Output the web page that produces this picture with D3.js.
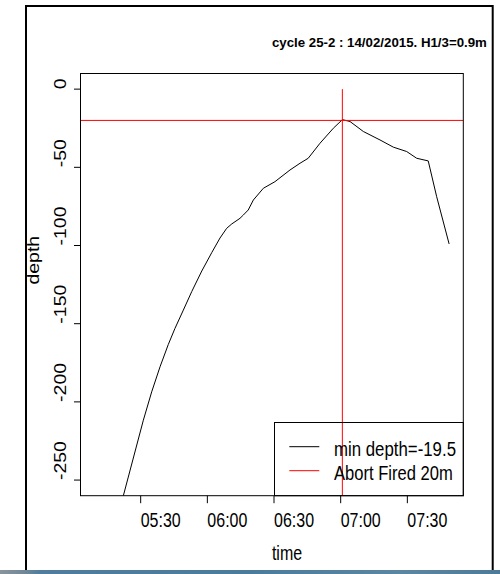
<!DOCTYPE html>
<html>
<head>
<meta charset="utf-8">
<script src="https://cdn.jsdelivr.net/npm/d3@7/dist/d3.min.js"></script>
<style>
  html, body { margin: 0; padding: 0; background: #fff; }
  svg { display: block; }
  text { font-family: "Liberation Sans", Arial, sans-serif; fill: #000; }
</style>
</head>
<body>
<svg id="chart" width="500" height="574"></svg>
<script>
// Dive profile of cycle 25-2 (time of day, depth in metres)
const times = ["05:09:18","05:22:12","05:31:12","05:34:57","05:38:42","05:42:24","05:45:24",
  "05:49:12","05:53:00","05:57:30","06:02:00","06:05:42","06:08:42","06:11:00","06:14:42",
  "06:16:12","06:18:24","06:20:42","06:25:12","06:30:24","06:37:12","06:41:42","06:45:24",
  "06:50:42","06:56:42","07:00:45","07:04:12","07:10:12","07:17:42","07:23:42","07:29:42",
  "07:34:12","07:39:24","07:43:12","07:48:48"];
const depths = [-333,-260,-211.7,-193.6,-177.6,-163.4,-153.1,
  -141.3,-129.4,-116.3,-104.5,-95.2,-89.0,-86.2,-82.6,
  -80.5,-77.3,-70.9,-63.4,-59.2,-51.7,-47.4,-44.2,
  -34.6,-25.0,-19.5,-20.7,-27.1,-32.5,-37.1,-39.9,
  -44.2,-45.9,-68.8,-99.0];

const yLimits = [-250, 0];
const yTicks = [0, -50, -100, -150, -200, -250];
const xTickLabels = ["05:30", "06:00", "06:30", "07:00", "07:30"];
const abortTime = "07:00:45";
const abortDepth = -20;
const minDepth = -19.5;

const titleText = "cycle 25-2 : 14/02/2015. H1/3=0.9m";
const legendLabels = ["min depth=-19.5", "Abort Fired 20m"];
const legendColors = ["#000000", "#ff0000"];

const parse = d3.utcParse("%H:%M:%S");
const parseHM = d3.utcParse("%H:%M");
const data = times.map((t, i) => ({ t: parse(t), d: depths[i] }));

const svg = d3.select("#chart");
const W = 500, H = 574;

// plot region
const L = 80.5, R = 463.3, T = 73.5, B = 495.7;
const SX = 0.82;           // horizontal squeeze of the lettering
const FS = 19.5;

// R-style 4% axis extension
function extend(a, b) { const p = (b - a) * 0.04; return [a - p, b + p]; }
const tExt = d3.extent(data, d => +d.t);
const xd = extend(tExt[0], tExt[1]);
const x = d3.scaleUtc().domain([new Date(xd[0]), new Date(xd[1])]).range([L, R]);
const yd = extend(yLimits[0], yLimits[1]);
const y = d3.scaleLinear().domain(yd).range([B, T]);

// outer frame
svg.append("rect").attr("x", 26).attr("y", 6).attr("width", 466.7).attr("height", 620)
  .attr("fill", "#fff").attr("stroke", "#000").attr("stroke-width", 2);

svg.append("defs").append("clipPath").attr("id", "plotclip")
  .append("rect").attr("x", L).attr("y", T).attr("width", R - L).attr("height", B - T);

const plot = svg.append("g").attr("clip-path", "url(#plotclip)");

// profile line
plot.append("path").datum(data)
  .attr("fill", "none").attr("stroke", "#000").attr("stroke-width", 1)
  .attr("d", d3.line().x(d => x(d.t)).y(d => y(d.d)));

// abort markers
plot.append("line")
  .attr("x1", L).attr("x2", R).attr("y1", y(abortDepth)).attr("y2", y(abortDepth))
  .attr("stroke", "#ff0000").attr("stroke-width", 1);
plot.append("line")
  .attr("x1", x(parse(abortTime))).attr("x2", x(parse(abortTime)))
  .attr("y1", y(0)).attr("y2", y(yd[0]))
  .attr("stroke", "#ff0000").attr("stroke-width", 1);

// box
svg.append("rect").attr("x", L).attr("y", T).attr("width", R - L).attr("height", B - T)
  .attr("fill", "none").attr("stroke", "#000").attr("stroke-width", 1);

// y axis
const ya = svg.append("g");
yTicks.forEach(v => {
  ya.append("line").attr("x1", L - 6.5).attr("x2", L).attr("y1", y(v)).attr("y2", y(v))
    .attr("stroke", "#000").attr("stroke-width", 1);
  ya.append("text")
    .attr("transform", `translate(65.5,${y(v)}) scale(${SX},1) rotate(-90)`)
    .attr("font-size", FS).attr("text-anchor", "start")
    .text(d3.format("d")(v).replace("−", "-"));
});

// x axis
const xa = svg.append("g");
xTickLabels.forEach(lbl => {
  const px = x(parseHM(lbl));
  xa.append("line").attr("x1", px).attr("x2", px).attr("y1", B).attr("y2", B + 7.5)
    .attr("stroke", "#000").attr("stroke-width", 1);
  xa.append("text")
    .attr("transform", `translate(${px},526.5) scale(${SX},1)`)
    .attr("font-size", FS).attr("text-anchor", "start")
    .text(d3.utcFormat("%H:%M")(parseHM(lbl)));
});

// axis titles
const cx = (L + R) / 2, cy = (T + B) / 2;
svg.append("text")
  .attr("transform", `translate(${cx},559.5) scale(${SX},1)`)
  .attr("font-size", FS).text("time");
svg.append("text")
  .attr("transform", `translate(38.5,${cy}) scale(${SX},1) rotate(-90)`)
  .attr("font-size", FS).text("depth");

// main title
svg.append("text")
  .attr("x", cx).attr("y", 46.5)
  .attr("font-size", 13).attr("font-weight", "bold")
  .attr("textLength", 215).attr("lengthAdjust", "spacingAndGlyphs")
  .text(titleText);

// legend (bottom right)
const lg = svg.append("g");
lg.append("rect").attr("x", 274.5).attr("y", 422.5).attr("width", R - 274.5).attr("height", B - 422.5)
  .attr("fill", "none").attr("stroke", "#000").attr("stroke-width", 1);
const legendWidths = [122, 118.7];
legendLabels.forEach((lbl, i) => {
  const ly = 446.7 + i * 24;
  lg.append("line").attr("x1", 289.3).attr("x2", 319.3).attr("y1", ly).attr("y2", ly)
    .attr("stroke", legendColors[i]).attr("stroke-width", 1);
  lg.append("text").attr("x", 334).attr("y", ly + 9)
    .attr("font-size", FS)
    .attr("textLength", legendWidths[i]).attr("lengthAdjust", "spacingAndGlyphs")
    .text(lbl);
});

// strip along the bottom edge
const grad = svg.select("defs").append("linearGradient").attr("id", "strip")
  .attr("x1", 0).attr("x2", 1).attr("y1", 0).attr("y2", 0);
[[0, "#8a949a"], [0.05, "#6f8797"], [0.08, "#4f7d9b"], [0.5, "#4a7c9a"], [0.8, "#5a86a0"], [1, "#4d7a96"]]
  .forEach(([o, c]) => grad.append("stop").attr("offset", o).attr("stop-color", c));
svg.append("rect").attr("x", 0).attr("y", 570).attr("width", W).attr("height", 4)
  .attr("fill", "url(#strip)");
</script>
</body>
</html>
